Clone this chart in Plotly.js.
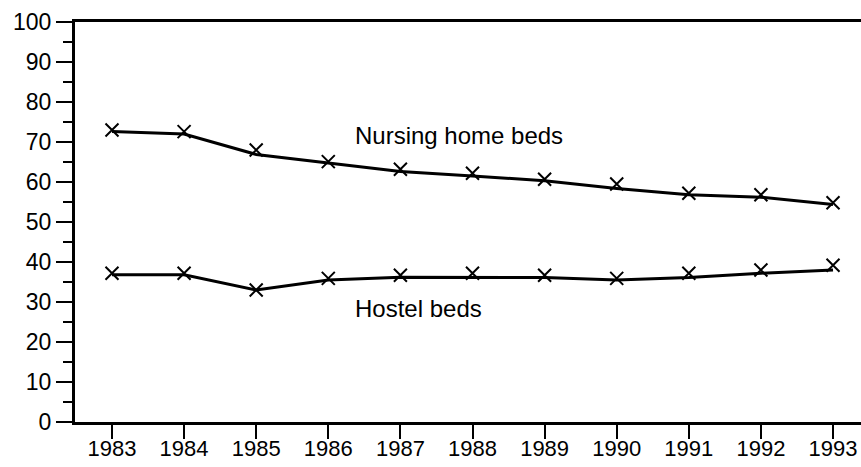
<!DOCTYPE html>
<html>
<head>
<meta charset="utf-8">
<script src="https://cdn.plot.ly/plotly-3.0.1.min.js"></script>
<style>html,body{margin:0;padding:0;background:#fff;}#chart{width:861px;height:467px;}</style>
</head>
<body>
<div id="chart"></div>
<script>
var years = [1983, 1984, 1985, 1986, 1987, 1988, 1989, 1990, 1991, 1992, 1993];
var nursingObserved = [73.0, 72.6, 68.0, 65.1, 63.2, 62.2, 60.7, 59.5, 57.2, 56.8, 54.8];
var nursingTrend    = [72.6, 72.0, 66.9, 64.7, 62.6, 61.5, 60.3, 58.4, 56.8, 56.2, 54.4];
var hostelObserved  = [37.2, 37.2, 33.0, 35.9, 36.7, 37.2, 36.7, 35.9, 37.2, 38.0, 39.2];
var hostelTrend     = [36.8, 36.8, 33.0, 35.5, 36.2, 36.1, 36.1, 35.5, 36.1, 37.2, 38.0];
var yTicks = [0, 10, 20, 30, 40, 50, 60, 70, 80, 90, 100];
var seriesLabels = ["Nursing home beds", "Hostel beds"];

var FONT = "Liberation Sans, Arial, sans-serif";
function lineTrace(y) {
  return {x: years, y: y, mode: "lines", line: {color: "#000", width: 3}, hoverinfo: "skip", showlegend: false};
}
function markTrace(y) {
  return {x: years, y: y, mode: "markers",
    marker: {symbol: "x-thin", size: 13, line: {color: "#000", width: 2}, color: "#000"},
    showlegend: false};
}
var data = [lineTrace(nursingTrend), markTrace(nursingObserved), lineTrace(hostelTrend), markTrace(hostelObserved)];

var layout = {
  width: 861, height: 467,
  margin: {l: 75, r: 0, t: 22, b: 45, pad: 0},
  paper_bgcolor: "#fff", plot_bgcolor: "#fff",
  font: {family: FONT, size: 23, color: "#000"},
  showlegend: false,
  xaxis: {
    range: [1982.487, 1993.388], tickvals: years, ticktext: years.map(String),
    showgrid: false, zeroline: false,
    showline: true, linecolor: "#000", linewidth: 3, mirror: true,
    ticks: "outside", ticklen: 14, tickwidth: 2, tickcolor: "#000",
    ticklabelstandoff: -9,
    tickfont: {family: FONT, size: 22, color: "#000"}
  },
  yaxis: {
    range: [0, 100], tickvals: yTicks, ticktext: yTicks.map(String),
    showgrid: false, zeroline: false,
    showline: true, linecolor: "#000", linewidth: 3,
    ticks: "outside", ticklen: 16, tickwidth: 2, tickcolor: "#000",
    minor: {dtick: 5, tick0: 0, ticks: "outside", ticklen: 9, tickwidth: 2, tickcolor: "#000", showgrid: false},
    tickfont: {family: FONT, size: 23, color: "#000"}
  },
  annotations: [
    {x: 1986.34, y: 71.6, xref: "x", yref: "y", text: seriesLabels[0], showarrow: false,
     xanchor: "left", yanchor: "middle", font: {family: FONT, size: 24, color: "#000"}},
    {x: 1986.34, y: 28.4, xref: "x", yref: "y", text: seriesLabels[1], showarrow: false,
     xanchor: "left", yanchor: "middle", font: {family: FONT, size: 24, color: "#000"}}
  ]
};
Plotly.newPlot("chart", data, layout, {staticPlot: true, displayModeBar: false});
</script>
</body>
</html>
